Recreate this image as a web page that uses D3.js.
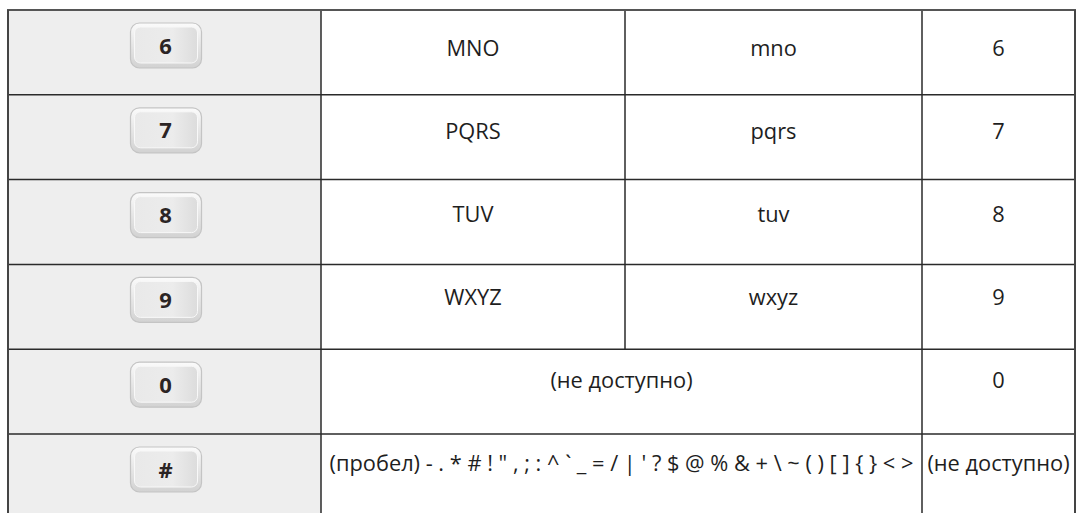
<!DOCTYPE html>
<html><head><meta charset="utf-8">
<script src="https://cdn.jsdelivr.net/npm/d3@7"></script>
<style>html,body{margin:0;padding:0;background:#fff;overflow:hidden}</style>
</head><body>
<svg id="c" width="1076" height="513"></svg>
<script>
const keys = ["6", "7", "8", "9", "0", "#"];
const upperCase = ["MNO", "PQRS", "TUV", "WXYZ", "(не доступно)", "(пробел) - . * # ! \" , ; : ^ ` _ = / | ' ? $ @ % & + \\ ~ ( ) [ ] { } < >"];
const lowerCase = ["mno", "pqrs", "tuv", "wxyz", null, null];
const digits = ["6", "7", "8", "9", "0", "(не доступно)"];

const svg = d3.select("#c");
const colEdges = [8, 321, 625, 922, 1075];
const rowH = 84.8;
const top0 = 10;
const y = d3.scaleLinear().domain([0, 1]).range([top0, top0 + rowH]);
const yText = d3.scaleLinear().domain([0, 1]).range([56, 56 + 83]);
const n = keys.length;
const font = "'Open Sans', 'Noto Sans', sans-serif";
const fs = 21.8;

const defs = svg.append("defs");
const g1 = defs.append("linearGradient").attr("id", "btn").attr("x1", 0).attr("y1", 0).attr("x2", 0).attr("y2", 1);
g1.append("stop").attr("offset", "0%").attr("stop-color", "#fbfbfb");
g1.append("stop").attr("offset", "45%").attr("stop-color", "#e8e8e8");
g1.append("stop").attr("offset", "100%").attr("stop-color", "#d2d2d2");
const g2 = defs.append("linearGradient").attr("id", "btnIn").attr("x1", 0).attr("y1", 0).attr("x2", 1).attr("y2", 0);
g2.append("stop").attr("offset", "0%").attr("stop-color", "#e9e9e9");
g2.append("stop").attr("offset", "60%").attr("stop-color", "#ececec");
g2.append("stop").attr("offset", "100%").attr("stop-color", "#dcdcdc");

svg.append("rect").attr("x", colEdges[0]).attr("y", top0)
  .attr("width", colEdges[1] - colEdges[0]).attr("height", y(n) - top0)
  .attr("fill", "#eeeeee");

const rows = svg.selectAll("g.row").data(keys.map((k, i) => ({k, i})))
  .join("g").attr("class", "row");

const bw = 71, bh = 45;
rows.each(function(d) {
  const g = d3.select(this);
  const cx = (colEdges[0] + colEdges[1]) / 2 + 1.5;
  const cy = y(d.i) + 35.5;
  g.append("rect").attr("x", cx - bw/2).attr("y", cy - bh/2).attr("width", bw).attr("height", bh)
    .attr("rx", 9).attr("fill", "url(#btn)").attr("stroke", "#c4c4c4").attr("stroke-width", 1.2);
  g.append("rect").attr("x", cx - bw/2 + 4).attr("y", cy - bh/2 + 4).attr("width", bw - 8).attr("height", bh - 9)
    .attr("rx", 6).attr("fill", "url(#btnIn)").attr("stroke", "#f8f8f8").attr("stroke-width", 1);
  g.append("text").attr("x", cx - 0.5).attr("y", cy + 8).attr("text-anchor", "middle")
    .attr("font-family", "'Open Sans', 'DejaVu Sans', sans-serif").attr("font-weight", 700)
    .attr("font-size", 22).attr("fill", "#2b2424").text(d.k);
});

const tcol = "#1e1e1e";
rows.each(function(d) {
  const g = d3.select(this);
  const by = yText(d.i);
  const merged = lowerCase[d.i] === null;
  const x1 = merged ? (colEdges[1] + colEdges[3]) / 2 : (colEdges[1] + colEdges[2]) / 2;
  g.append("text").attr("x", x1).attr("y", by).attr("text-anchor", "middle")
    .attr("font-family", font).attr("font-size", fs).attr("fill", tcol).text(upperCase[d.i]);
  if (!merged) {
    g.append("text").attr("x", (colEdges[2] + colEdges[3]) / 2).attr("y", by).attr("text-anchor", "middle")
      .attr("font-family", font).attr("font-size", fs).attr("fill", tcol).text(lowerCase[d.i]);
  }
  g.append("text").attr("x", (colEdges[3] + colEdges[4]) / 2).attr("y", by).attr("text-anchor", "middle")
    .attr("font-family", font).attr("font-size", fs).attr("fill", tcol).text(digits[d.i]);
});

const lc = "#2a2a2a";
for (let i = 1; i < n; i++) {
  svg.append("line").attr("x1", colEdges[0]).attr("x2", colEdges[4])
    .attr("y1", y(i)).attr("y2", y(i)).attr("stroke", lc).attr("stroke-width", 1.5);
}
svg.append("line").attr("x1", colEdges[1]).attr("x2", colEdges[1]).attr("y1", top0).attr("y2", 513)
  .attr("stroke", lc).attr("stroke-width", 1.5);
svg.append("line").attr("x1", colEdges[3]).attr("x2", colEdges[3]).attr("y1", top0).attr("y2", 513)
  .attr("stroke", lc).attr("stroke-width", 1.5);
keys.forEach((k, i) => {
  if (lowerCase[i] !== null) {
    svg.append("line").attr("x1", colEdges[2]).attr("x2", colEdges[2]).attr("y1", y(i)).attr("y2", y(i + 1))
      .attr("stroke", lc).attr("stroke-width", 1.5);
  }
});
svg.append("line").attr("x1", colEdges[0] - 1).attr("x2", colEdges[4] + 1).attr("y1", top0).attr("y2", top0)
  .attr("stroke", "#555").attr("stroke-width", 2);
svg.append("line").attr("x1", colEdges[0]).attr("x2", colEdges[0]).attr("y1", top0).attr("y2", 513)
  .attr("stroke", "#444").attr("stroke-width", 2);
svg.append("line").attr("x1", colEdges[4]).attr("x2", colEdges[4]).attr("y1", top0).attr("y2", 513)
  .attr("stroke", "#444").attr("stroke-width", 2);
</script>
</body></html>
